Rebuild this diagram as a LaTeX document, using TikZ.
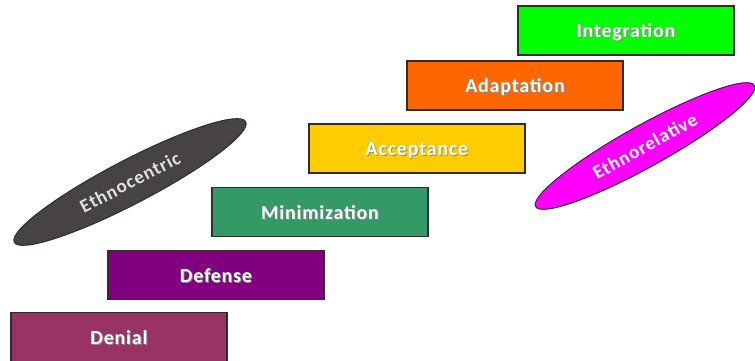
\documentclass[tikz,border=0pt]{standalone}
\usepackage{fontspec}
\setmainfont{Carlito}
\usetikzlibrary{shapes.geometric}
\definecolor{cDenial}{HTML}{993366}
\definecolor{cDefense}{HTML}{800080}
\definecolor{cMin}{HTML}{339966}
\definecolor{cAcc}{HTML}{FFCC00}
\definecolor{cAdapt}{HTML}{FF6600}
\definecolor{cInteg}{HTML}{00FF00}
\definecolor{cCentric}{HTML}{474243}
\definecolor{cRel}{HTML}{FF00FF}
\definecolor{cEdge}{HTML}{2E2E2E}
\newcommand\shadowtext[1]{\makebox[0pt][l]{\raisebox{-1pt}{\hspace{1pt}\textcolor{black!45}{#1}}}#1}
\tikzset{
  stage/.style={draw=cEdge, line width=1.1pt, rectangle, minimum width=216pt, minimum height=49pt,
    inner sep=0pt, text height=16pt, text depth=2pt, text=white,
    font=\fontsize{20}{23}\selectfont\bfseries\addfontfeatures{LetterSpace=4}},
  band/.style={draw=cEdge, line width=1pt, ellipse, inner sep=0pt,
    font=\fontsize{19}{22}\selectfont\bfseries\addfontfeatures{LetterSpace=5}}
}
\begin{document}
\begin{tikzpicture}[x=1pt,y=-1pt]
\useasboundingbox (0,0) rectangle (755,360);
\node[stage, fill=cDenial]  (denial) at (119,337) {\shadowtext{Denial}};
\node[stage, fill=cDefense] (defense) at (216,275) {\shadowtext{Defense}};
\node[stage, fill=cMin]     (min) at (320,212) {\shadowtext{Minimization}};
\node[stage, fill=cAcc]     (acc) at (417,148.5) {\shadowtext{Acceptance}};
\node[stage, fill=cAdapt]   (adapt) at (515,85.5) {\shadowtext{Adaptation}};
\node[stage, fill=cInteg]   (integ) at (626,30.5) {\shadowtext{Integration}};
\node[band, fill=cCentric, text=black!12, minimum width=261pt, minimum height=44pt, rotate=27.5]
  (centric) at (130,182) {Ethnocentric};
\node[band, fill=cRel, text=white, minimum width=250pt, minimum height=42pt, rotate=29]
  (rel) at (645,146) {Ethnorelative};
\end{tikzpicture}
\end{document}
